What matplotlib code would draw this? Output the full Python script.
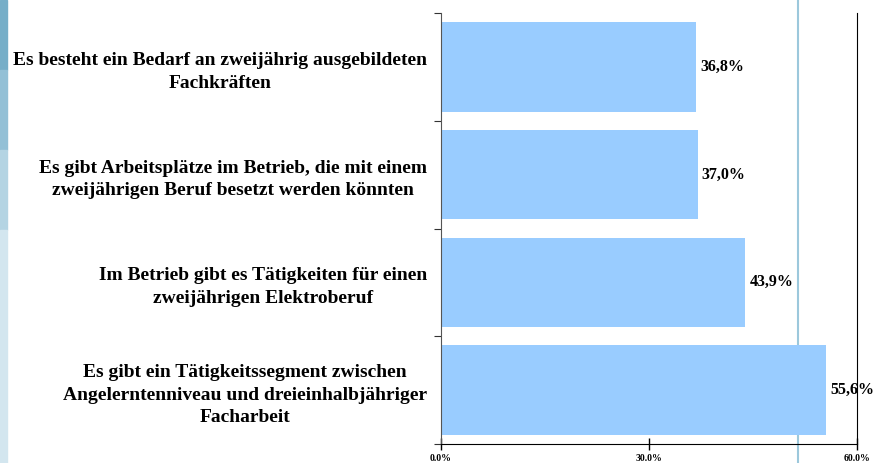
import matplotlib.pyplot as plt
import matplotlib.patches as mpatches
import numpy as np

labels = [
    "Es besteht ein Bedarf an zweijährig ausgebildeten\nFachkräften",
    "Es gibt Arbeitsplätze im Betrieb, die mit einem\nzweijährigen Beruf besetzt werden könnten",
    "Im Betrieb gibt es Tätigkeiten für einen\nzweijährigen Elektroberuf",
    "Es gibt ein Tätigkeitssegment zwischen\nAngelerntenniveau und dreieinhalbjähriger\nFacharbeit",
]
values = [36.8, 37.0, 43.9, 55.6]
value_texts = ["36,8%", "37,0%", "43,9%", "55,6%"]
xticks = [0, 30, 60]
xtick_labels = ["0.0%", "30.0%", "60.0%"]

plt.rcParams["font.family"] = ["Liberation Serif", "DejaVu Serif"]

fig = plt.figure(figsize=(8.76, 4.63), dpi=100)

# slide background: blue strip on the left edge
strip = [(0, 70, "#76aec8"), (70, 150, "#93c0d6"), (150, 230, "#b4d4e3"), (230, 463, "#d3e6ef")]
for y0, y1, c in strip:
    fig.patches.append(mpatches.Rectangle((0, 1 - y1 / 463), 7 / 876, (y1 - y0) / 463,
                                          transform=fig.transFigure, color=c, zorder=0))
# light blue vertical line of the slide
fig.add_artist(plt.Line2D([798 / 876, 798 / 876], [0, 1], transform=fig.transFigure,
                          color="#9cc8dc", lw=1.5, zorder=0))

ax = fig.add_axes([441 / 876, 1 - 444 / 463, 416 / 876, 431 / 463])
ax.patch.set_alpha(0)

y = np.arange(len(labels))
ax.barh(y, values, height=0.83, color="#99ccff", zorder=2)
for yi, v, t in zip(y, values, value_texts):
    ax.text(v + 0.6, yi, t, va="center", ha="left", fontsize=11.5, fontweight="bold")

ax.set_xlim(0, 60)
ax.set_ylim(len(labels) - 0.5, -0.5)
ax.set_xticks(xticks)
ax.set_xticklabels(xtick_labels, fontsize=7, fontweight="bold")
ax.tick_params(axis="x", direction="inout", length=8, width=1, pad=3)

ax.set_yticks(np.arange(len(labels) + 1) - 0.5)
ax.set_yticklabels([])
ax.tick_params(axis="y", which="major", direction="out", length=5, color="#333333")
ax.set_yticks(y, minor=True)
ax.set_yticklabels(labels, minor=True, fontsize=14, fontweight="bold",
                   multialignment="center", linespacing=1.45)
ax.tick_params(axis="y", which="minor", length=0, pad=10)

ax.spines["top"].set_visible(False)
ax.spines["left"].set_color("#555555")
ax.spines["right"].set_color("black")
ax.spines["bottom"].set_color("black")

plt.savefig("out.png", dpi=100)
plt.close(fig)
